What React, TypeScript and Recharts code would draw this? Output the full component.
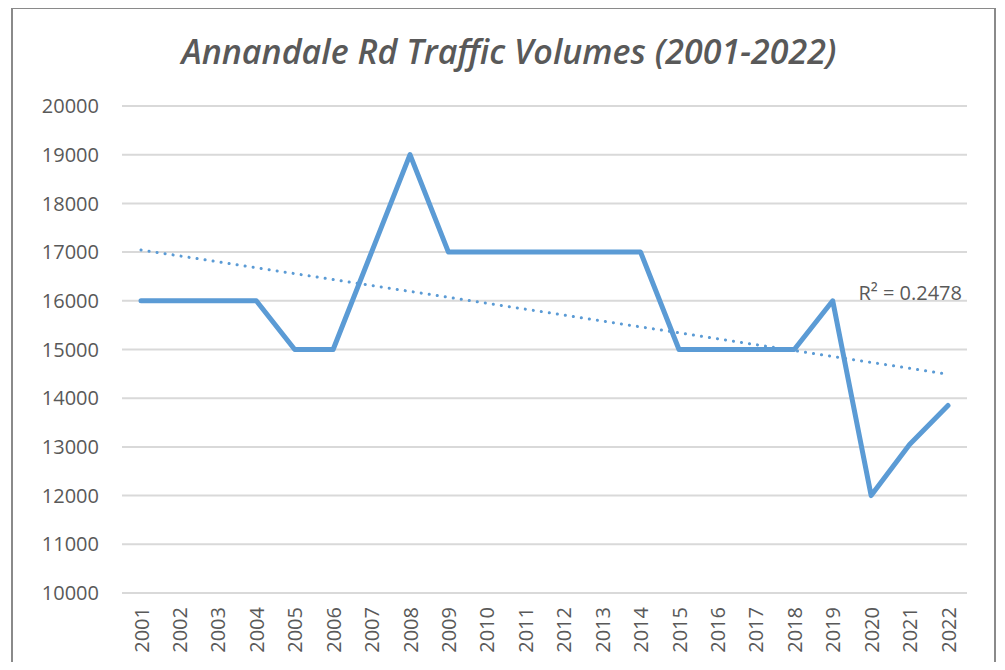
import React from "react";
import { ComposedChart, Line, XAxis, YAxis, CartesianGrid, LabelList } from "recharts";

const years = ["2001","2002","2003","2004","2005","2006","2007","2008","2009","2010","2011","2012","2013","2014","2015","2016","2017","2018","2019","2020","2021","2022"];
const volumes = [16000,16000,16000,16000,15000,15000,17000,19000,17000,17000,17000,17000,17000,17000,15000,15000,15000,15000,16000,12000,13050,13850];
const yTicks = [10000,11000,12000,13000,14000,15000,16000,17000,18000,19000,20000];
const titleText = "Annandale Rd Traffic Volumes (2001-2022)";
const r2Text = "R\u00b2 = 0.2478";

// linear least-squares trendline (as Excel draws it)
const n = volumes.length;
const xs = volumes.map((_, i) => i + 1);
const mx = xs.reduce((a, b) => a + b, 0) / n;
const my = volumes.reduce((a, b) => a + b, 0) / n;
const slope = xs.reduce((s, x, i) => s + (x - mx) * (volumes[i] - my), 0) / xs.reduce((s, x) => s + (x - mx) * (x - mx), 0);
const intercept = my - slope * mx;

const data = years.map((y, i) => ({ year: y, value: volumes[i], trend: intercept + slope * (i + 1) }));

const FONT = "'Open Sans', 'DejaVu Sans', sans-serif";
const TXT = "#595959";

const XTick = (props: any) => {
  const { x, y, payload } = props;
  return (
    <text x={x} y={y} transform={`rotate(-90, ${x}, ${y})`} textAnchor="end" dominantBaseline="central" fill={TXT} fontSize={20} fontFamily={FONT}>
      {payload.value}
    </text>
  );
};

const R2Label = (props: any) => {
  const { x, y, index } = props;
  if (index !== n - 1) return null;
  return (
    <text x={x + 14} y={y - 74} textAnchor="end" fill={TXT} fontSize={20} fontFamily={FONT}>
      {r2Text}
    </text>
  );
};

export default function App() {
  return (
    <div style={{ position: "relative", width: 1005, height: 670, margin: -8, overflow: "hidden", background: "#fff" }}>
      <div style={{ position: "absolute", left: 11, top: 7, width: 985, height: 700, border: "2px solid #8a8a8a", boxSizing: "border-box" }} />
      <div style={{ position: "absolute", left: 0, top: 0 }}>
        <ComposedChart width={1005} height={670} data={data} margin={{ top: 106, right: 38, left: 0, bottom: 0 }}>
          <text x={509} y={64} textAnchor="middle" fill={TXT} fontSize={34} fontStyle="italic" fontWeight={600} fontFamily={FONT}>
            {titleText}
          </text>
          <CartesianGrid vertical={false} stroke="#d9d9d9" strokeWidth={2} />
          <XAxis dataKey="year" axisLine={false} tickLine={false} height={77} interval={0} tick={<XTick />} tickMargin={8}
            padding={{ left: 19, right: 19 }} />
          <YAxis domain={[10000, 20000]} ticks={yTicks} width={122} axisLine={false} tickLine={false} tickMargin={17}
            tick={{ fill: TXT, fontSize: 20, fontFamily: FONT }} />
          <Line dataKey="value" stroke="#5B9BD5" strokeWidth={5} dot={false} isAnimationActive={false} strokeLinejoin="round" strokeLinecap="round" />
          <Line dataKey="trend" stroke="#5B9BD5" strokeWidth={3} strokeDasharray="0.1 8" strokeLinecap="round" dot={false} isAnimationActive={false}>
            <LabelList dataKey="trend" content={<R2Label />} />
          </Line>
        </ComposedChart>
      </div>
    </div>
  );
}
